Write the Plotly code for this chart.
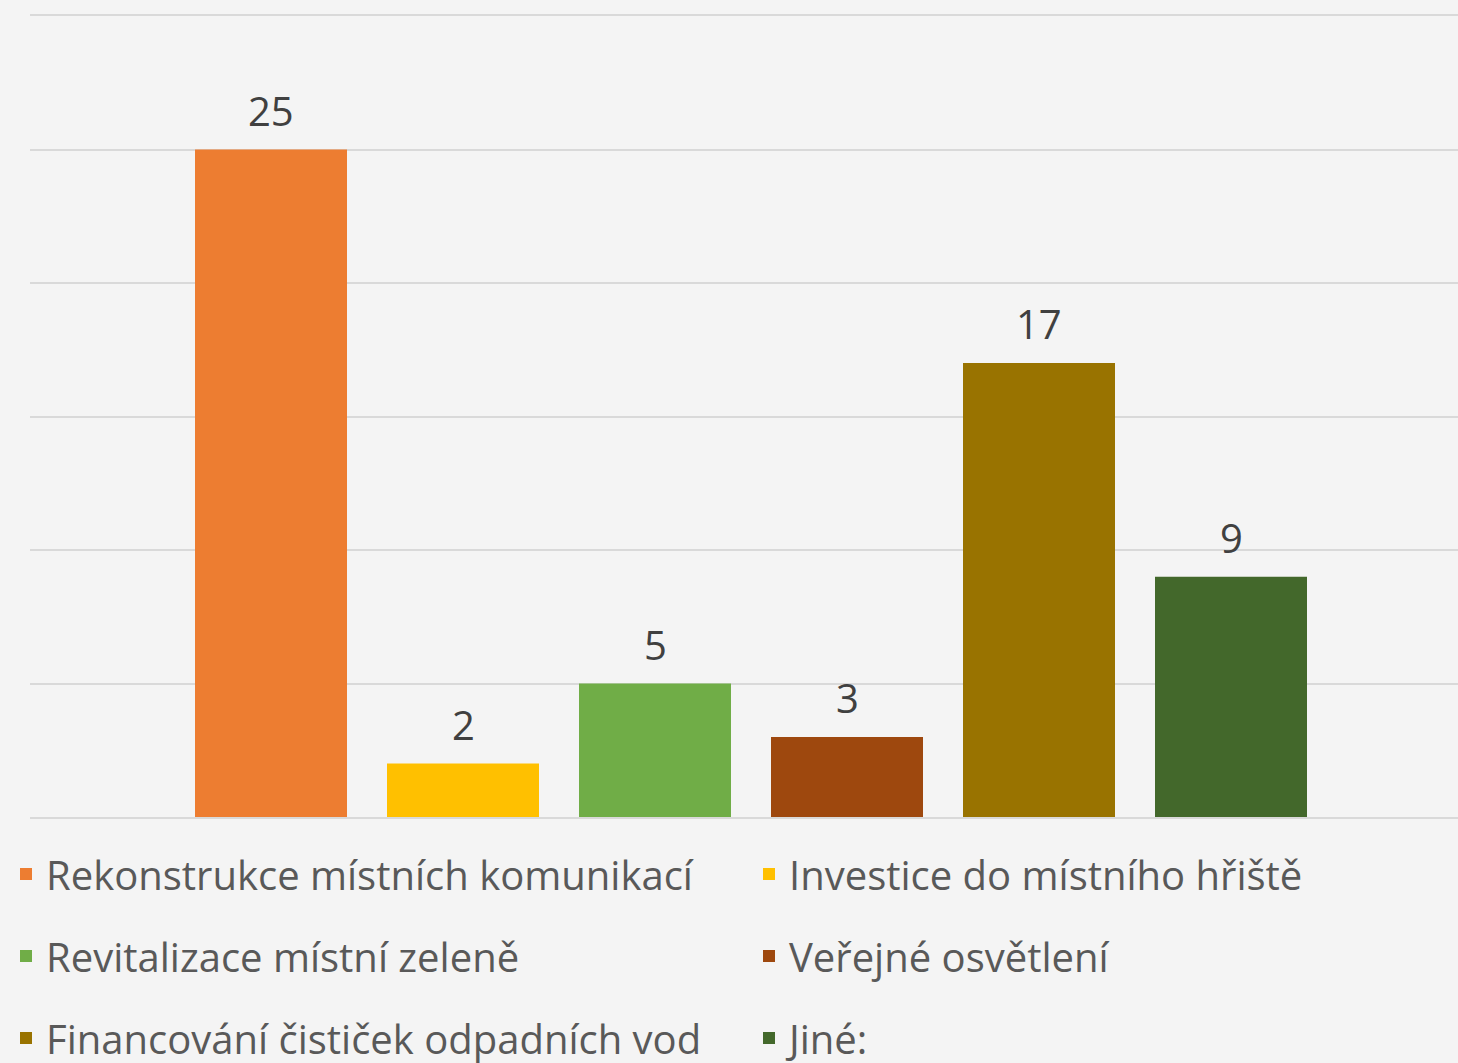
import plotly.graph_objects as go

categories = [
    "Rekonstrukce místních komunikací",
    "Investice do místního hřiště",
    "Revitalizace místní zeleně",
    "Veřejné osvětlení",
    "Financování čističek odpadních vod",
    "Jiné:",
]
values = [25, 2, 5, 3, 17, 9]
colors = ["#ED7D31", "#FFC000", "#70AD47", "#9E480E", "#997300", "#43682B"]
y_ticks = [0, 5, 10, 15, 20, 25, 30]

FONT = "Open Sans"
W, H = 1458, 1063
ml, mr, mt, mb = 30, 0, 16, 246
pw = W - ml - mr
ph = H - mt - mb
step = 192.0
x0 = -(271 - ml) / step
x1 = x0 + pw / step

def px2paper_x(px):
    return (px - ml) / pw

def py2paper(py):
    return (H - mb - py) / ph

# legend slots (two columns, three rows)
leg_ids = ["legend", "legend2", "legend3", "legend4", "legend5", "legend6"]
col_x = [6, 749]
row_y = [874, 956, 1038]

fig = go.Figure()
for i, (name, v, c) in enumerate(zip(categories, values, colors)):
    fig.add_trace(go.Bar(
        x=[i], y=[v], name=name, width=152 / step,
        marker=dict(color=c, line=dict(width=0)),
        legend=leg_ids[i],
        hoverinfo="name+y",
    ))
    fig.add_annotation(
        x=i, y=v, text=str(v), showarrow=False, yanchor="bottom", yshift=10,
        font=dict(family=FONT, size=40, color="#404040"),
    )

legends = {}
for i, lid in enumerate(leg_ids):
    legends[lid] = dict(
        orientation="h", xanchor="left", yanchor="middle",
        x=px2paper_x(col_x[i % 2]), y=py2paper(row_y[i // 2]),
        font=dict(family=FONT, size=40, color="#595959"),
        bgcolor="rgba(0,0,0,0)", borderwidth=0,
        itemclick=False, itemdoubleclick=False,
    )

fig.update_layout(
    width=W, height=H,
    margin=dict(l=ml, r=mr, t=mt, b=mb, pad=0, autoexpand=False),
    paper_bgcolor="#F4F4F4", plot_bgcolor="#F4F4F4",
    barmode="overlay",
    showlegend=True,
    xaxis=dict(range=[x0, x1], showticklabels=False, showgrid=False,
               zeroline=False, showline=True, mirror=True,
               linecolor="#D9D9D9", linewidth=2, ticks=""),
    yaxis=dict(range=[0, 30], tickvals=y_ticks, showticklabels=False,
               showgrid=True, gridcolor="#D9D9D9", gridwidth=2,
               zeroline=False, showline=False, ticks=""),
    **legends,
)

fig.write_html(
    "out.html",
    config={"displayModeBar": False},
    post_script="document.body.style.margin='0';document.body.style.overflow='hidden';",
)
